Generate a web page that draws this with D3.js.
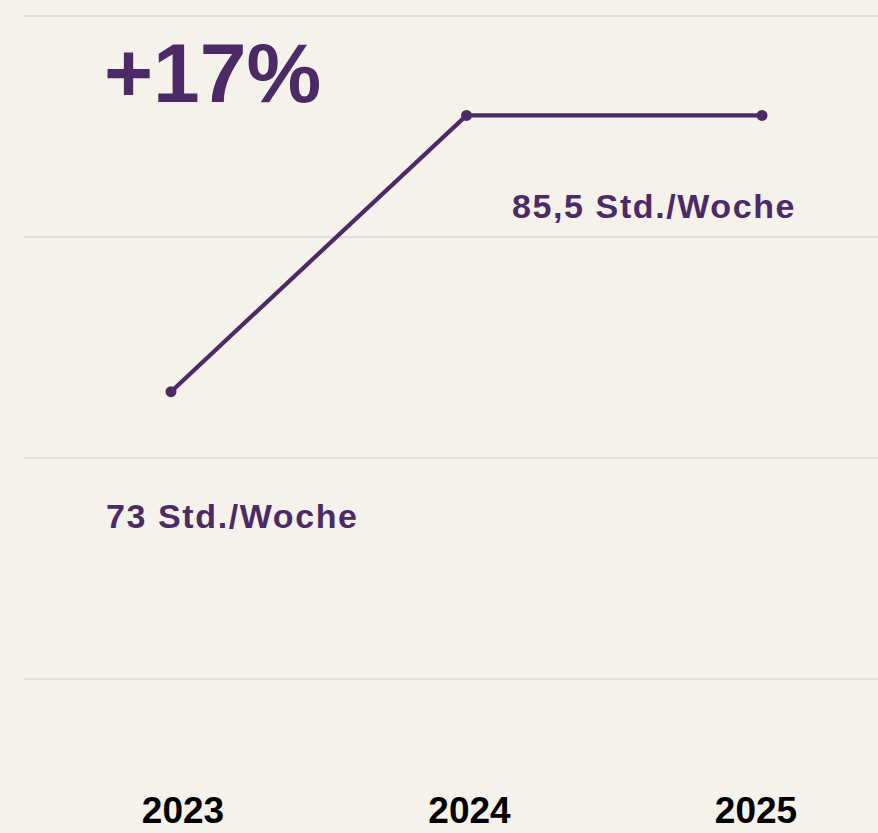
<!DOCTYPE html>
<html>
<head>
<meta charset="utf-8">
<script src="https://cdn.jsdelivr.net/npm/d3@7"></script>
<style>
  html, body { margin: 0; padding: 0; background: #f5f2ec; }
  svg { display: block; }
</style>
</head>
<body>
<div id="chart"></div>
<script>
const width = 878;
const height = 833;

// Daten
const years = ["2023", "2024", "2025"];
const hours = [73, 85.5, 85.5];
const gridValues = [60, 70, 80, 90];
const pointLabels = ["73 Std./Woche", "85,5 Std./Woche"];
const headline = "+17%";

const purple = "#4b2a65";

const svg = d3.select("#chart")
    .append("svg")
    .attr("width", width)
    .attr("height", height);

svg.append("rect")
    .attr("width", width)
    .attr("height", height)
    .attr("fill", "#f5f2ec");

// Skalen
const x = d3.scalePoint().domain(years).range([171, 762]);
const xLabel = d3.scalePoint().domain(years).range([183, 756]);
const y = d3.scaleLinear().domain([60, 90]).range([679, 16]);

// Gitterlinien
svg.append("g")
    .selectAll("line")
    .data(gridValues)
    .join("line")
    .attr("x1", 24)
    .attr("x2", width)
    .attr("y1", d => y(d))
    .attr("y2", d => y(d))
    .attr("stroke", "#cfc9d3")
    .attr("stroke-width", 1.2);

const data = years.map((yr, i) => ({ year: yr, value: hours[i] }));

// Linie
const line = d3.line()
    .x(d => x(d.year))
    .y(d => y(d.value));

svg.append("path")
    .datum(data)
    .attr("d", line)
    .attr("fill", "none")
    .attr("stroke", purple)
    .attr("stroke-width", 4.2);

svg.append("g")
    .selectAll("circle")
    .data(data)
    .join("circle")
    .attr("cx", d => x(d.year))
    .attr("cy", d => y(d.value))
    .attr("r", 5.5)
    .attr("fill", purple);

// Beschriftungen
const font = "'Liberation Sans', Arial, sans-serif";

svg.append("text")
    .attr("x", 104)
    .attr("y", y(85.5) - 13)
    .attr("font-family", font)
    .attr("font-weight", 700)
    .attr("font-size", 84)
    .attr("fill", purple)
    .text(headline);

svg.append("text")
    .attr("x", 512)
    .attr("y", y(hours[1]) + 103)
    .attr("font-family", font)
    .attr("font-weight", 700)
    .attr("font-size", 34)
    .attr("letter-spacing", 1.6)
    .attr("fill", purple)
    .text(pointLabels[1]);

svg.append("text")
    .attr("x", 106)
    .attr("y", y(hours[0]) + 136)
    .attr("font-family", font)
    .attr("font-weight", 700)
    .attr("font-size", 34)
    .attr("letter-spacing", 1.6)
    .attr("fill", purple)
    .text(pointLabels[0]);

// X-Achse
svg.append("g")
    .selectAll("text")
    .data(years)
    .join("text")
    .attr("x", d => xLabel(d))
    .attr("y", 823)
    .attr("text-anchor", "middle")
    .attr("font-family", font)
    .attr("font-weight", 700)
    .attr("font-size", 37)
    .attr("fill", "#000")
    .text(d => d);
</script>
</body>
</html>
